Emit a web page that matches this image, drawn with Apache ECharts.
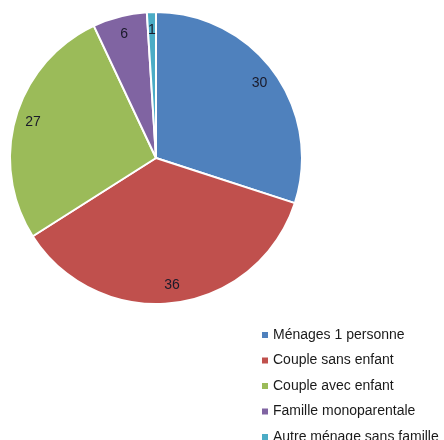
<!DOCTYPE html>
<html><head><meta charset="utf-8">
<script src="https://cdn.jsdelivr.net/npm/echarts@6/dist/echarts.min.js"></script>
<style>html,body{margin:0;padding:0;background:#fff}#c{width:444px;height:440px}</style>
</head><body><div id="c"></div>
<script>
const categories = ["Ménages 1 personne","Couple sans enfant","Couple avec enfant","Famille monoparentale","Autre ménage sans famille"];
const values = [30, 36, 27, 6, 1];
const colors = ["#4F81BD","#C0504D","#9BBB59","#8064A2","#4BACC6"];

const data = categories.map((n,i)=>({name:n, value:values[i], itemStyle:{color:colors[i]}}));
const chart = echarts.init(document.getElementById('c'), null, {renderer:'canvas'});
chart.setOption({
  animation:false,
  color: colors,
  legend:{
    orient:'vertical', left:262, top:327, height:200, padding:0,
    icon:'rect', itemWidth:6, itemHeight:6, itemGap:9.5, itemTextGap:7,
    textStyle:{fontFamily:'Liberation Sans', fontSize:14, lineHeight:16, color:'#1a1a1a'},
    data: categories.map((n,i)=>({name:n, itemStyle:{color:colors[i], opacity:1, borderWidth:0}}))
  },
  series:[
    {
      type:'pie', center:[156,158], radius:[0,146], startAngle:90, clockwise:true,
      itemStyle:{borderColor:'#fff', borderWidth:2},
      label:{show:false}, labelLine:{show:false},
      data: data
    },
    {
      type:'pie', center:[156,158], radius:[111,139], startAngle:90, clockwise:true,
      silent:true, legendHoverLink:false,
      itemStyle:{color:'rgba(0,0,0,0)', borderWidth:0},
      label:{show:true, position:'inside', formatter:'{c}', fontFamily:'Liberation Sans', fontSize:14, color:'#1a1a2a'},
      labelLine:{show:false},
      data: categories.map((n,i)=>({name:n+' ', value:values[i]}))
    }
  ]
});
</script></body></html>
